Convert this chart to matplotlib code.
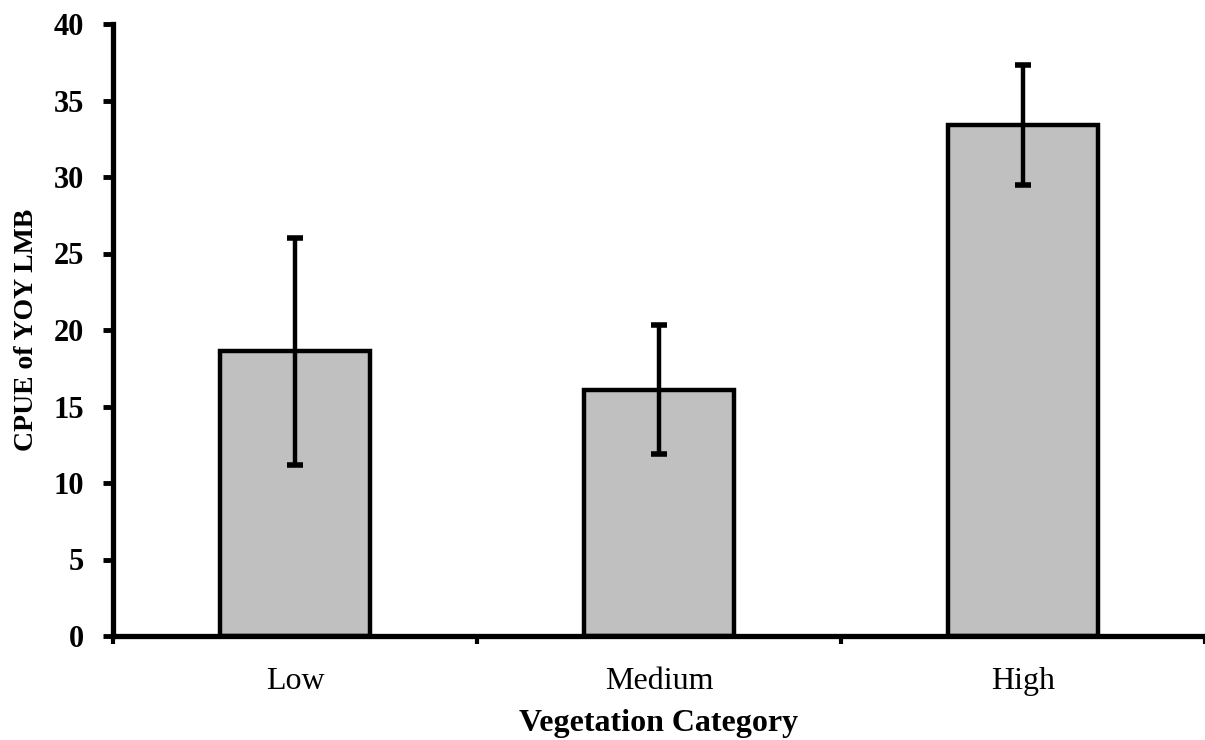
import numpy as np
import matplotlib.pyplot as plt

categories = ['Low', 'Medium', 'High']
cpue = [18.6, 16.1, 33.4]
err = [7.4, 4.2, 3.9]

plt.rcParams['font.family'] = ['Liberation Serif', 'DejaVu Serif']

fig = plt.figure(figsize=(12.05, 7.4), dpi=100)
ax = fig.add_axes([113 / 1205, 104 / 740, 1 - 113 / 1205, (636 - 24) / 740])

x = np.arange(len(categories))
ax.bar(x, cpue, width=0.41, color='#c0c0c0', edgecolor='black', linewidth=3.2, zorder=2)
ax.errorbar(x, cpue, yerr=err, fmt='none', ecolor='black', elinewidth=3.2,
            capsize=6, capthick=4, zorder=3)

ax.set_xlim(-0.5, 2.5)
ax.set_ylim(0, 40)
ax.set_yticks(np.arange(0, 41, 5))
ax.set_xticks(x)
ax.set_xticklabels(categories, fontsize=23)
ax.set_xticks([-0.5, 0.5, 1.5, 2.5], minor=True)
ax.tick_params(axis='x', which='major', length=0, pad=22)
ax.tick_params(axis='x', which='minor', length=6, width=3, direction='out')
ax.tick_params(axis='y', length=7, width=3.5, direction='out', labelsize=22, pad=14)
for lbl in ax.get_yticklabels():
    lbl.set_fontweight('bold')

for s in ['top', 'right']:
    ax.spines[s].set_visible(False)
for s in ['left', 'bottom']:
    ax.spines[s].set_linewidth(3.8)

ax.set_xlabel('Vegetation Category', fontsize=23, fontweight='bold', labelpad=10)
ax.set_ylabel('CPUE of YOY LMB', fontsize=20, fontweight='bold', labelpad=10)

fig.savefig('out.png', dpi=100)
